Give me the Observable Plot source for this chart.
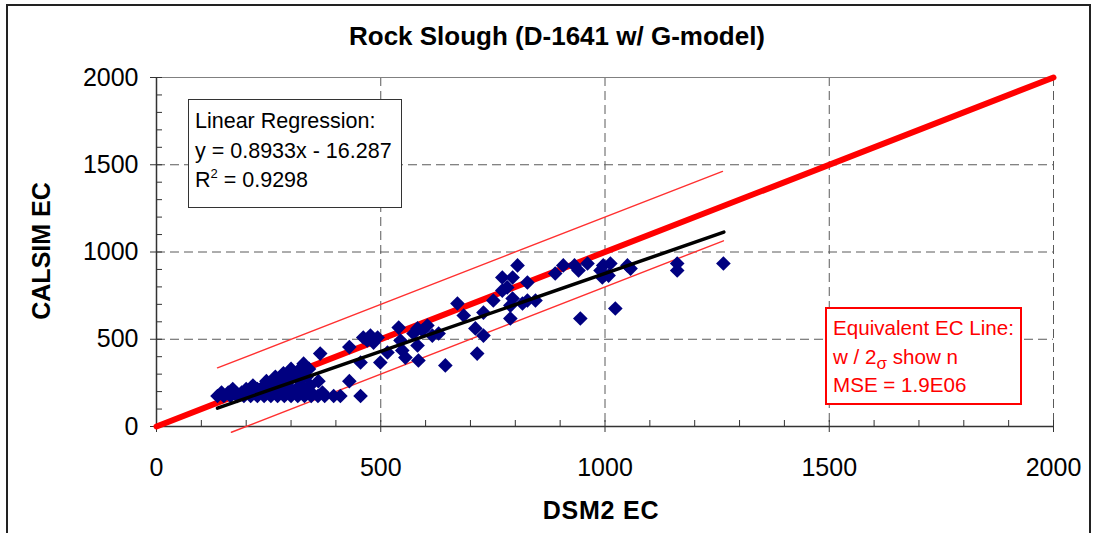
<!DOCTYPE html>
<html><head><meta charset="utf-8">
<script src="https://cdn.jsdelivr.net/npm/d3@7"></script>
<script src="https://cdn.jsdelivr.net/npm/@observablehq/plot@0.6"></script>
<style>
body{margin:0;background:#fff;font-family:"Liberation Sans",Arial,sans-serif;}
#wrap{position:relative;width:1101px;height:533px;overflow:hidden;background:#fff;}
#frame{position:absolute;left:6px;top:4px;width:1085px;height:600px;border:2px solid #222;box-sizing:border-box;}
#chart{position:absolute;left:0;top:0;}
#title{position:absolute;left:557px;top:21px;transform:translateX(-50%);font-weight:bold;font-size:26px;white-space:nowrap;color:#000;}
#ylab{position:absolute;left:41px;top:251px;transform:translate(-50%,-50%) rotate(-90deg);font-weight:bold;font-size:25px;white-space:nowrap;}
#xlab{position:absolute;left:601px;top:510px;transform:translate(-50%,-50%);font-weight:bold;font-size:25px;white-space:nowrap;letter-spacing:0.8px;}
.box{position:absolute;background:#fff;box-sizing:border-box;white-space:nowrap;}
#box1{left:188px;top:99px;width:214px;height:109px;border:1.5px solid #333;padding:7px 0 0 6px;line-height:29.5px;color:#000;font-size:21.5px;}
#box2{left:825px;top:307px;width:197px;height:98px;border:2px solid #ff0000;padding:5px 0 0 6px;line-height:28.5px;color:#ff0000;font-size:20.6px;}
sup{font-size:13px;vertical-align:9px;line-height:0;}
sub{font-size:17px;vertical-align:-5px;line-height:0;}
</style></head><body>
<div id="wrap">
  <div id="frame"></div>
  <div id="chart"></div>
  <div id="title"></div>
  <div id="ylab"></div>
  <div id="xlab"></div>
  <div id="box1" class="box"></div>
  <div id="box2" class="box"></div>
</div>
<script>
const title = "Rock Slough (D-1641 w/ G-model)";
const xLabel = "DSM2 EC";
const yLabel = "CALSIM EC";
const xTicks = [0, 500, 1000, 1500, 2000];
const yTicks = [0, 500, 1000, 1500, 2000];
const minorTicks = d3.range(0, 2001, 100);
const gridX = [500, 1000, 1500, 2000];
const gridY = [500, 1000, 1500];

const dsm2 = [
  136,150,165,180,195,210,225,240,255,270,285,300,315,330,345,360,375,395,410,455,
  145,160,190,215,240,265,290,315,345,370,
  170,200,225,250,275,300,330,
  215,240,265,290,320,343,
  245,270,295,320,361,430,
  265,290,310,335,
  283,305,325,
  300,320,340,
  328,365,430,
  461,477,493,484,470,515,499,455,540,544,
  548,555,573,582,593,604,582,584,615,629,
  644,671,685,711,715,729,729,
  805,771,794,827,782,771,751,794,816,827,
  845,789,789,889,907,932,941,961,996,1012,
  994,1008,990,1050,1057,945,1023,1161,1161,1264
];
const calsim = [
  175,175,175,175,175,175,175,175,175,175,175,175,175,175,175,175,175,175,175,175,
  195,195,195,195,195,195,195,195,195,195,
  215,215,215,215,215,215,215,
  235,235,235,235,235,235,
  260,260,260,260,260,260,
  285,285,285,285,
  305,305,305,
  330,330,330,
  360,418,455,
  510,521,510,481,493,424,367,367,567,493,
  436,395,533,562,550,579,464,378,521,533,
  350,705,636,562,418,653,521,
  923,854,854,825,797,779,722,733,705,722,
  722,693,619,877,923,923,894,934,923,934,
  854,865,894,923,905,619,676,934,894,934
];

const regSlope = 0.8933, regIntercept = -16.287, regR2 = 0.9298;
const regX = [136, 1265];
const equivX = [0, 2000];
const sigma2 = 200;
const upperX = [136, 1262];
const lowerX = [167, 1264];
const mseText = "1.9E06";

const points = dsm2.map((x, i) => ({x, y: calsim[i]}));
const regLine = regX.map(x => ({x, y: regSlope * x + regIntercept}));
const equivLine = equivX.map(x => ({x, y: x}));
const upperLine = upperX.map(x => ({x, y: x + sigma2}));
const lowerLine = lowerX.map(x => ({x, y: x - sigma2}));

document.getElementById("title").textContent = title;
document.getElementById("xlab").textContent = xLabel;
document.getElementById("ylab").textContent = yLabel;
document.getElementById("box1").innerHTML =
  `Linear Regression:<br>y = ${regSlope}x - ${Math.abs(regIntercept)}<br>R<sup>2</sup> = ${regR2}`;
document.getElementById("box2").innerHTML =
  `Equivalent EC Line:<br>w / 2<sub>σ</sub> show n<br>MSE = ${mseText}`;

const fmt = d => String(d);
const dash = {stroke: "#5a5a5a", strokeWidth: 1, strokeDasharray: "9,5"};
const chart = Plot.plot({
  width: 1101, height: 533,
  marginLeft: 156, marginRight: 48, marginTop: 77, marginBottom: 107,
  x: {domain: [0, 2000], label: null},
  y: {domain: [0, 2000], label: null},
  style: {fontFamily: "'Liberation Sans', Arial, sans-serif", background: "transparent", color: "#000", overflow: "visible"},
  marks: [
    Plot.ruleY(gridY, dash),
    Plot.ruleX(gridX, dash),
    Plot.ruleY([2000], {stroke: "#808080", strokeWidth: 1.2}),
    Plot.axisY(minorTicks, {anchor: "left", tickSize: 6, dx: 6, tickFormat: () => "", label: null, stroke: "#333"}),
    Plot.axisX(minorTicks, {anchor: "bottom", tickSize: 6, dy: -6, tickFormat: () => "", label: null, stroke: "#333"}),
    Plot.axisY(yTicks, {anchor: "left", tickSize: 6, tickPadding: 12, fontSize: 25, tickFormat: fmt, label: null, stroke: "#333"}),
    Plot.axisX(xTicks, {anchor: "bottom", tickSize: 6, tickPadding: 26, fontSize: 25, tickFormat: fmt, label: null, stroke: "#333"}),
    Plot.ruleX([0], {stroke: "#333", strokeWidth: 1.5}),
    Plot.ruleY([0], {stroke: "#333", strokeWidth: 1.5}),
    Plot.line(upperLine, {x: "x", y: "y", stroke: "#ff3030", strokeWidth: 1.4}),
    Plot.line(lowerLine, {x: "x", y: "y", stroke: "#ff3030", strokeWidth: 1.4}),
    Plot.line(equivLine, {x: "x", y: "y", stroke: "#ff0000", strokeWidth: 6}),
    Plot.dot(points, {x: "x", y: "y", symbol: "diamond2", fill: "#000080", r: 6.6}),
    Plot.line(regLine, {x: "x", y: "y", stroke: "#000", strokeWidth: 3.5})
  ]
});
document.getElementById("chart").appendChild(chart);
</script>
</body></html>
